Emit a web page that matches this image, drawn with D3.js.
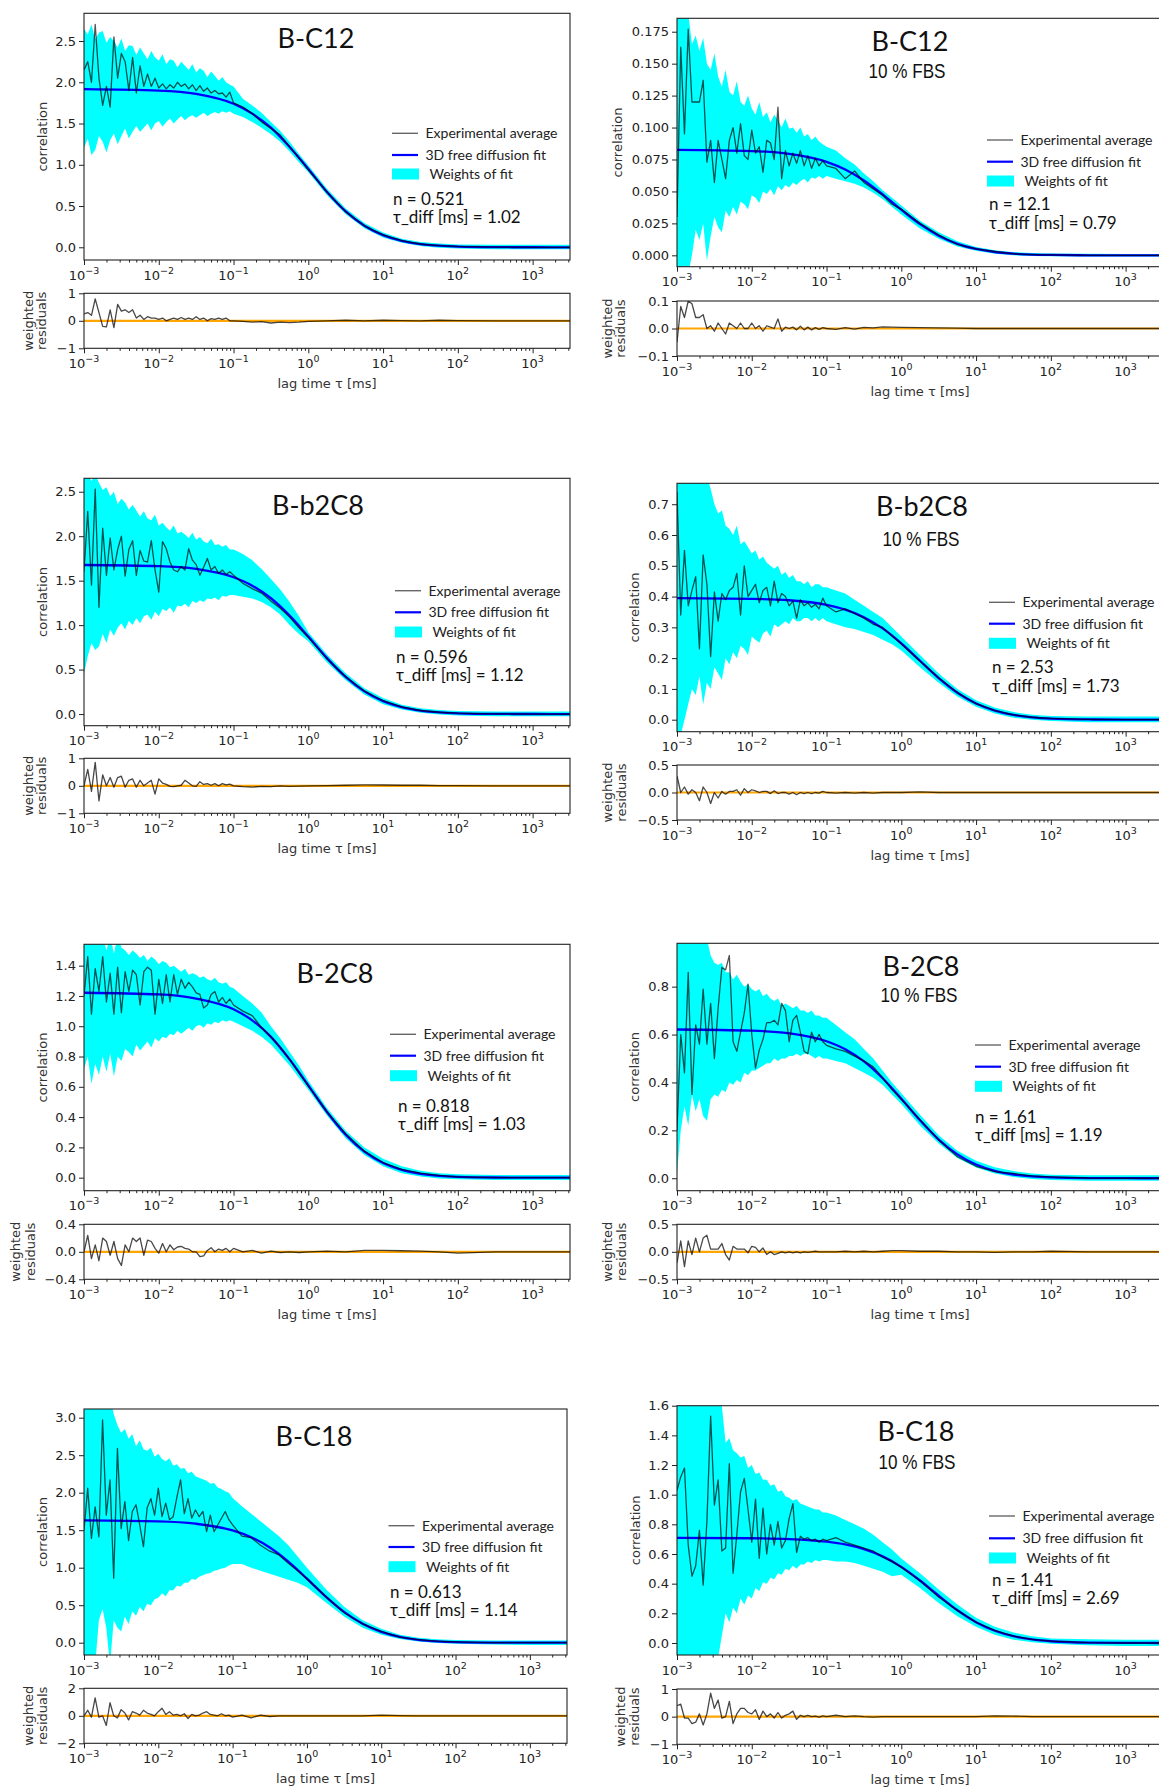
<!DOCTYPE html>
<html><head><meta charset="utf-8">
<script src="https://cdnjs.cloudflare.com/ajax/libs/d3/7.8.5/d3.min.js"></script>
<style>html,body{margin:0;padding:0;background:#fff;}svg{display:block;}</style>
</head><body><script>
// ---------------- DATA ----------------
// lag time grid (log10 of tau in ms) for experimental data, band and residuals
const lagLog = [-3,-2.95,-2.9,-2.85,-2.8,-2.75,-2.7,-2.65,-2.6,-2.55,-2.5,-2.45,-2.4,-2.35,-2.3,-2.25,-2.2,-2.15,-2.1,-2.05,-2,-1.95,-1.9,-1.85,-1.8,-1.75,-1.7,-1.65,-1.6,-1.55,-1.5,-1.45,-1.4,-1.35,-1.3,-1.25,-1.2,-1.15,-1.1,-1.05,-1,-0.875,-0.75,-0.625,-0.5,-0.375,-0.25,-0.125,0,0.25,0.5,0.75,1,1.25,1.5,1.75,2,2.5,3,3.5];
// lag time grid (log10) for the fit curves
const fitLog = [-3,-2,-1.5,-1,-0.75,-0.5,-0.25,0,0.25,0.5,0.75,1,1.25,1.5,1.75,2,2.5,3,3.5];

const panelTitles = ["B-C12","B-C12","B-b2C8","B-b2C8","B-2C8","B-2C8","B-C18","B-C18"];
const panelSubtitles = ["","10 % FBS","","10 % FBS","","10 % FBS","","10 % FBS"];
const nValues = ["0.521","12.1","0.596","2.53","0.818","1.61","0.613","1.41"];
const tauValues = ["1.02","0.79","1.12","1.73","1.03","1.19","1.14","2.69"];
const legendLabels = ["Experimental average","3D free diffusion fit","Weights of fit"];
const xTickSup = ["\u22123","\u22122","\u22121","0","1","2","3"];

// B-C12
const expC12 = [2.15,2.25,2.0,2.7,2.05,1.72,1.95,1.7,2.55,2.05,2.35,2.25,1.9,2.3,1.87,2.2,1.95,2.1,1.95,2.05,1.93,1.98,1.92,1.97,1.93,2.0,1.95,1.98,1.92,1.97,1.9,1.96,1.89,1.93,1.87,1.9,1.86,1.87,1.82,1.88,1.75,1.70,1.62,1.52,1.44,1.36,1.22,1.08,0.94,0.67,0.43,0.26,0.15,0.08,0.04,0.02,0.01,0.003,0,0];
const hiC12 = [2.65,2.58,2.7,2.52,2.6,2.62,2.48,2.55,2.5,2.42,2.53,2.38,2.45,2.44,2.33,2.42,2.35,2.28,2.38,2.3,2.26,2.34,2.22,2.28,2.26,2.18,2.25,2.2,2.15,2.22,2.12,2.17,2.14,2.06,2.13,2.08,2.02,2.06,2.0,1.97,1.95,1.8,1.72,1.63,1.52,1.41,1.28,1.13,0.99,0.71,0.47,0.295,0.18,0.105,0.065,0.045,0.035,0.03,0.03,0.03];
const loC12 = [1.2,1.32,1.12,1.18,1.35,1.28,1.15,1.3,1.38,1.25,1.35,1.44,1.32,1.4,1.47,1.4,1.45,1.5,1.42,1.5,1.53,1.46,1.52,1.56,1.5,1.55,1.59,1.54,1.58,1.6,1.57,1.6,1.63,1.59,1.62,1.64,1.62,1.65,1.63,1.65,1.62,1.58,1.52,1.45,1.37,1.28,1.16,1.03,0.91,0.63,0.40,0.23,0.12,0.055,0.015,-0.005,-0.015,-0.025,-0.025,-0.025];
const resC12 = [0.25,0.3,0.2,0.8,0.3,-0.2,-0.22,0.4,-0.25,0.6,0.35,0.4,0.3,0.4,0.1,0.2,0.05,0.15,0.1,0.1,0.05,0.1,0.0,0.05,0.1,0.05,0.12,0.05,0.1,0.05,0.15,0.05,0.1,0.0,0.08,0.05,0.1,0.05,0.1,0.0,0.0,-0.02,-0.05,-0.03,-0.08,-0.05,-0.07,-0.05,-0.02,0,0.02,0,0.02,0.01,0,0.02,0.01,0,0,0];
const fitC12 = [1.918,1.90,1.86,1.74,1.62,1.45,1.215,0.95,0.67,0.435,0.262,0.148,0.078,0.039,0.019,0.0085,0.0016,0.0003,0];

// B-C12 10 % FBS
const expC12F = [0.03,0.163,0.095,0.177,0.12,0.12,0.12,0.137,0.073,0.09,0.057,0.09,0.075,0.06,0.09,0.1,0.08,0.103,0.078,0.075,0.098,0.08,0.085,0.065,0.09,0.088,0.075,0.116,0.06,0.082,0.07,0.08,0.072,0.082,0.07,0.078,0.068,0.076,0.07,0.074,0.07,0.068,0.06,0.066,0.057,0.052,0.047,0.04,0.036,0.025,0.016,0.0085,0.005,0.003,0.0012,0.0006,0.0003,0,0,0];
const hiC12F = [0.2,0.2,0.2,0.19,0.165,0.172,0.16,0.17,0.15,0.145,0.158,0.14,0.132,0.145,0.128,0.125,0.136,0.12,0.117,0.125,0.115,0.11,0.12,0.108,0.112,0.104,0.11,0.106,0.1,0.107,0.099,0.1,0.096,0.1,0.093,0.095,0.09,0.093,0.089,0.087,0.085,0.082,0.076,0.071,0.064,0.058,0.051,0.045,0.039,0.027,0.018,0.011,0.0065,0.004,0.0025,0.0018,0.0015,0.0012,0.001,0.001];
const loC12F = [-0.02,-0.02,-0.02,-0.015,0.0,0.02,0.012,0.025,-0.004,0.015,0.03,0.022,0.018,0.035,0.03,0.038,0.032,0.042,0.04,0.036,0.047,0.045,0.041,0.05,0.048,0.052,0.047,0.054,0.051,0.055,0.053,0.057,0.055,0.058,0.06,0.057,0.061,0.06,0.062,0.06,0.062,0.06,0.058,0.056,0.053,0.049,0.044,0.038,0.032,0.021,0.013,0.007,0.0035,0.0012,0,-0.0006,-0.0008,-0.001,-0.001,-0.001];
const resC12F = [-0.05,0.08,0.04,0.1,0.09,0.04,0.04,0.05,0.0,0.01,-0.01,0.02,0.0,-0.02,0.02,0.01,0.0,0.02,0.0,0.0,0.02,0.0,0.01,-0.01,0.01,0.005,0.0,0.035,-0.01,0.005,0.0,0.005,-0.005,0.008,-0.005,0.005,-0.005,0.003,-0.003,0.003,0.0,-0.003,0.003,-0.002,0.004,0.002,0.006,0.005,0.004,0.003,0.002,0.001,0,0,0,0,0,0,0,0];
const fitC12F = [0.0825,0.0816,0.0794,0.0732,0.0672,0.0586,0.0477,0.0357,0.0244,0.0154,0.0090,0.0050,0.0026,0.0013,0.0006,0.0003,0.00004,0,0];

// B-b2C8
const expB2C8 = [1.6,2.28,1.45,2.53,1.2,2.09,1.56,1.98,1.62,1.85,2.0,1.55,1.85,1.95,1.56,1.84,1.72,1.71,1.95,1.62,1.37,1.94,1.86,1.71,1.62,1.6,1.66,1.62,1.86,1.73,1.68,1.56,1.65,1.75,1.62,1.66,1.58,1.62,1.57,1.6,1.56,1.47,1.41,1.36,1.27,1.19,1.09,0.97,0.86,0.62,0.42,0.26,0.15,0.08,0.04,0.02,0.01,0.002,0,0];
const hiB2C8 = [2.7,2.7,2.62,2.7,2.6,2.52,2.55,2.45,2.5,2.36,2.42,2.38,2.3,2.35,2.29,2.22,2.28,2.2,2.18,2.24,2.12,2.15,2.1,2.06,2.12,2.03,2.05,2.02,1.98,2.04,1.96,1.99,1.94,1.92,1.97,1.9,1.91,1.88,1.9,1.85,1.85,1.8,1.73,1.63,1.52,1.4,1.26,1.1,0.92,0.67,0.46,0.29,0.18,0.105,0.065,0.045,0.035,0.03,0.03,0.03];
const loB2C8 = [0.45,0.65,0.8,0.72,0.76,0.9,0.8,0.95,0.88,0.97,1.02,0.95,1.05,1.0,1.08,1.02,1.1,1.12,1.06,1.15,1.1,1.18,1.16,1.2,1.14,1.22,1.21,1.24,1.2,1.27,1.25,1.28,1.26,1.3,1.29,1.31,1.28,1.33,1.32,1.34,1.34,1.32,1.3,1.26,1.2,1.12,1.0,0.9,0.82,0.58,0.38,0.22,0.11,0.05,0.015,-0.005,-0.015,-0.025,-0.025,-0.025];
const resB2C8 = [0.0,0.6,-0.2,0.85,-0.55,0.4,0.0,0.3,-0.05,0.3,0.35,-0.05,0.2,0.25,-0.05,0.2,0.0,0.1,0.2,-0.3,0.25,0.1,0.05,-0.02,-0.03,0.0,0.02,0.2,0.1,0.0,-0.02,0.15,0.05,0.08,0.02,0.08,0.0,0.08,0.03,0.06,0.0,-0.03,-0.05,-0.02,-0.03,0,-0.02,-0.01,0,0.01,0.02,0.03,0.03,0.02,0.02,0.01,0.01,0,0,0];
const fitB2C8 = [1.676,1.663,1.632,1.538,1.444,1.302,1.107,0.872,0.629,0.417,0.255,0.145,0.078,0.039,0.019,0.0087,0.0017,0.0003,0];

// B-b2C8 10 % FBS
const expB2C8F = [0.74,0.34,0.55,0.37,0.42,0.465,0.23,0.535,0.44,0.205,0.415,0.32,0.41,0.39,0.42,0.43,0.475,0.34,0.5,0.4,0.42,0.44,0.38,0.42,0.43,0.37,0.45,0.38,0.41,0.4,0.37,0.385,0.33,0.39,0.37,0.38,0.365,0.375,0.36,0.395,0.37,0.35,0.36,0.345,0.33,0.31,0.3,0.272,0.246,0.19,0.136,0.088,0.052,0.03,0.016,0.008,0.004,0.001,0,0];
const hiB2C8F = [0.8,0.8,0.8,0.8,0.8,0.8,0.8,0.8,0.79,0.75,0.7,0.67,0.68,0.63,0.62,0.6,0.63,0.57,0.58,0.56,0.54,0.55,0.52,0.53,0.51,0.5,0.49,0.5,0.47,0.48,0.46,0.47,0.45,0.45,0.44,0.45,0.43,0.44,0.44,0.43,0.43,0.42,0.41,0.39,0.37,0.35,0.33,0.3,0.27,0.21,0.15,0.1,0.063,0.04,0.025,0.016,0.012,0.01,0.01,0.01];
const loB2C8F = [-0.05,-0.05,0.0,0.05,0.1,0.08,0.14,0.05,0.12,0.1,0.17,0.15,0.13,0.2,0.18,0.22,0.2,0.24,0.23,0.21,0.27,0.26,0.25,0.28,0.29,0.27,0.31,0.3,0.31,0.32,0.31,0.33,0.32,0.32,0.33,0.33,0.32,0.33,0.32,0.33,0.32,0.31,0.3,0.295,0.285,0.275,0.26,0.245,0.225,0.17,0.12,0.075,0.042,0.02,0.006,0,-0.004,-0.008,-0.008,-0.008];
const resB2C8F = [0.3,0.0,0.1,-0.03,0.05,0.0,-0.15,0.1,0.0,-0.2,0.0,-0.1,0.02,-0.03,0.02,0.02,0.05,-0.05,0.07,0.0,0.05,0.03,0.0,0.02,0.02,-0.02,0.03,-0.02,0.0,0.0,-0.03,0.0,-0.04,0.0,-0.02,0.0,-0.02,0.0,-0.01,0.02,0.0,-0.01,0,-0.01,0,-0.01,0,0,0,0.01,0,0,0,0,0,0,0,0,0,0];
const fitB2C8F = [0.3948,0.3927,0.388,0.373,0.3576,0.333,0.2965,0.248,0.1914,0.1352,0.0877,0.0527,0.0296,0.0157,0.0078,0.0037,0.00075,0.0001,0];

// B-2C8
const exp2C8 = [1.2,1.46,1.08,1.38,1.23,1.46,1.16,1.35,1.08,1.39,1.09,1.36,1.23,1.37,1.34,1.14,1.36,1.39,1.37,1.08,1.31,1.15,1.34,1.16,1.34,1.21,1.31,1.25,1.29,1.26,1.22,1.21,1.12,1.14,1.21,1.23,1.16,1.19,1.15,1.18,1.14,1.1,1.07,0.99,0.93,0.86,0.78,0.69,0.605,0.435,0.29,0.175,0.1,0.055,0.03,0.015,0.005,0,0,0];
const hi2C8 = [1.6,1.6,1.6,1.6,1.6,1.6,1.5,1.6,1.48,1.6,1.52,1.5,1.47,1.5,1.48,1.45,1.47,1.43,1.46,1.44,1.41,1.43,1.42,1.39,1.4,1.38,1.36,1.38,1.34,1.35,1.34,1.32,1.33,1.31,1.3,1.32,1.29,1.28,1.29,1.26,1.25,1.2,1.15,1.09,1.0,0.92,0.83,0.74,0.64,0.46,0.31,0.2,0.125,0.075,0.045,0.03,0.022,0.018,0.018,0.018];
const lo2C8 = [0.72,0.8,0.62,0.75,0.68,0.8,0.7,0.82,0.67,0.8,0.77,0.85,0.83,0.8,0.88,0.84,0.87,0.9,0.86,0.92,0.9,0.93,0.92,0.95,0.94,0.97,0.95,0.97,0.99,0.97,1.0,1.01,0.99,1.02,1.01,1.03,1.02,1.04,1.03,1.04,1.03,1.0,0.97,0.93,0.88,0.81,0.74,0.66,0.58,0.41,0.26,0.15,0.075,0.03,0.008,-0.005,-0.01,-0.016,-0.016,-0.016];
const res2C8 = [0.0,0.24,-0.1,0.1,-0.13,0.2,0.15,-0.05,0.15,-0.1,-0.2,0.1,0.0,0.2,0.15,0.2,-0.05,0.17,0.15,0.05,-0.02,0.12,0.0,0.1,0.03,0.07,0.08,0.05,0.04,0.0,0.0,-0.07,-0.06,0.02,0.06,0.0,0.04,0.02,0.05,0.0,0.05,0,0.02,-0.02,0.01,-0.01,0,-0.01,0,0.01,0,0.02,0.02,0.015,0.01,0,-0.02,0,0,0];
const fit2C8 = [1.221,1.21,1.183,1.112,1.039,0.930,0.781,0.610,0.434,0.284,0.1716,0.0964,0.051,0.0257,0.0122,0.0056,0.0011,0.0002,0];

// B-2C8 10 % FBS
const exp2C8F = [0.2,0.6,0.44,0.86,0.35,0.64,0.56,0.79,0.56,0.73,0.5,0.71,0.88,0.87,0.93,0.57,0.53,0.61,0.69,0.81,0.6,0.46,0.535,0.58,0.65,0.65,0.66,0.64,0.73,0.7,0.57,0.66,0.68,0.61,0.53,0.52,0.61,0.57,0.6,0.57,0.555,0.54,0.53,0.51,0.49,0.465,0.42,0.37,0.33,0.245,0.16,0.09,0.05,0.028,0.02,0.01,0.006,0.001,0,0];
const hi2C8F = [1.0,1.0,1.0,1.0,1.0,1.0,1.0,1.0,1.0,0.93,0.9,0.89,0.9,0.86,0.86,0.83,0.85,0.82,0.8,0.81,0.79,0.78,0.79,0.76,0.77,0.75,0.74,0.75,0.72,0.73,0.72,0.71,0.72,0.7,0.7,0.69,0.7,0.68,0.68,0.67,0.67,0.64,0.61,0.58,0.54,0.5,0.45,0.4,0.355,0.265,0.18,0.115,0.073,0.046,0.03,0.02,0.015,0.012,0.012,0.012];
const lo2C8F = [0.02,0.2,0.3,0.22,0.35,0.28,0.33,0.26,0.24,0.33,0.35,0.34,0.37,0.36,0.4,0.39,0.41,0.4,0.44,0.43,0.45,0.45,0.46,0.47,0.48,0.48,0.5,0.49,0.5,0.5,0.51,0.51,0.52,0.51,0.52,0.52,0.51,0.5,0.51,0.5,0.5,0.49,0.48,0.46,0.44,0.42,0.39,0.35,0.31,0.22,0.145,0.085,0.045,0.02,0.005,-0.003,-0.007,-0.01,-0.01,-0.01];
const res2C8F = [-0.2,0.2,-0.27,0.2,-0.05,0.25,0.0,0.25,0.3,0.05,0.05,0.05,0.15,-0.05,-0.15,0.1,0.05,0.05,0.05,-0.02,0.1,0.08,0.0,0.07,-0.05,0.0,-0.05,-0.03,0.0,-0.02,0.0,-0.02,0.0,-0.02,0.0,-0.01,0.0,0.01,0.0,0.0,0.0,0,0.01,0,0.01,0,0.01,0.02,0.02,0.01,0.01,0,0,-0.01,0,0,0.01,0,0,0];
const fit2C8F = [0.621,0.616,0.605,0.572,0.5386,0.488,0.4177,0.332,0.2419,0.1615,0.0995,0.0572,0.0309,0.0156,0.0076,0.0035,0.0007,0.0001,0];

// B-C18
const expC18 = [1.5,2.06,1.39,1.81,1.41,2.97,1.7,2.17,0.86,2.59,1.52,1.88,1.36,1.75,1.84,1.57,1.28,1.8,1.92,1.7,2.06,1.68,1.86,1.64,1.68,1.94,2.17,1.72,1.92,1.66,1.77,1.68,1.75,1.48,1.7,1.48,1.57,1.66,1.75,1.64,1.57,1.42,1.4,1.3,1.22,1.17,1.06,0.96,0.85,0.62,0.4,0.25,0.15,0.075,0.04,0.02,0.01,0,0,0];
const hiC18 = [3.3,3.3,3.3,3.3,3.3,3.3,3.3,3.3,3.05,2.9,2.8,2.85,2.72,2.78,2.62,2.7,2.58,2.56,2.6,2.48,2.52,2.45,2.42,2.46,2.36,2.38,2.32,2.33,2.26,2.28,2.22,2.2,2.18,2.16,2.12,2.13,2.07,2.05,2.02,2.0,1.93,1.82,1.72,1.62,1.52,1.42,1.3,1.15,1.0,0.72,0.48,0.3,0.185,0.105,0.065,0.045,0.035,0.03,0.03,0.03];
const loC18 = [-0.3,-0.3,-0.3,-0.3,0.3,0.45,0.2,-0.3,0.3,0.2,0.15,0.35,0.25,0.42,0.36,0.48,0.42,0.52,0.5,0.58,0.6,0.66,0.62,0.7,0.7,0.76,0.75,0.8,0.8,0.85,0.84,0.88,0.9,0.92,0.93,0.96,0.97,0.99,1.0,1.03,1.05,1.05,1.0,0.96,0.92,0.88,0.84,0.8,0.74,0.54,0.35,0.2,0.105,0.05,0.015,-0.005,-0.015,-0.025,-0.03,-0.03];
const resC18 = [0.0,0.4,-0.1,1.3,-0.1,0.0,-0.7,0.95,0.0,-0.15,0.45,0.2,-0.3,0.3,0.2,0.05,0.4,0.2,0.1,0.0,0.3,0.55,0.1,0.3,0.05,0.1,0.0,0.15,-0.2,0.1,0.0,0.05,0.2,0.3,0.1,0.05,0.0,0.15,0.0,0.05,-0.1,0.05,-0.15,0.05,-0.05,0,0,0,0,0,0,0,0.05,0.02,0,0,0,0,0,0];
const fitC18 = [1.630,1.617,1.587,1.497,1.406,1.270,1.082,0.854,0.618,0.4106,0.2513,0.1435,0.077,0.039,0.0188,0.0087,0.0017,0.0003,0];

// B-C18 10 % FBS
const expC18F = [1.03,1.12,1.18,0.66,0.45,0.52,0.76,0.39,0.82,1.53,0.93,1.1,0.62,0.64,1.21,0.47,0.73,1.02,1.11,0.9,0.68,0.97,0.57,0.91,0.6,0.8,0.66,0.82,0.64,0.69,0.84,0.94,0.61,0.72,0.7,0.71,0.69,0.7,0.68,0.7,0.69,0.71,0.68,0.66,0.64,0.62,0.58,0.55,0.51,0.42,0.31,0.22,0.14,0.085,0.046,0.024,0.012,0.002,0,0];
const hiC18F = [1.7,1.7,1.7,1.7,1.7,1.7,1.7,1.7,1.7,1.7,1.7,1.7,1.6,1.35,1.38,1.3,1.28,1.25,1.26,1.18,1.2,1.14,1.15,1.1,1.1,1.06,1.07,1.02,1.03,0.99,0.98,0.96,0.97,0.94,0.93,0.92,0.91,0.9,0.9,0.88,0.88,0.86,0.83,0.8,0.77,0.73,0.68,0.63,0.57,0.47,0.36,0.26,0.17,0.11,0.07,0.045,0.03,0.025,0.022,0.022];
const loC18F = [-0.1,-0.1,-0.1,-0.1,-0.1,-0.1,-0.1,-0.1,-0.1,-0.1,-0.1,-0.1,0.05,0.2,0.14,0.24,0.2,0.3,0.26,0.32,0.3,0.37,0.35,0.41,0.4,0.44,0.43,0.47,0.46,0.5,0.49,0.52,0.5,0.53,0.53,0.55,0.54,0.56,0.55,0.56,0.56,0.55,0.55,0.54,0.52,0.5,0.48,0.45,0.46,0.37,0.27,0.18,0.11,0.055,0.022,0.005,-0.005,-0.015,-0.02,-0.02];
const resC18F = [0.4,0.45,-0.05,-0.05,-0.25,-0.2,0.1,-0.3,0.1,0.85,0.3,0.6,-0.05,0.0,0.55,-0.25,0.1,0.3,0.3,0.15,0.1,0.25,-0.1,0.2,0.0,0.1,-0.05,0.15,-0.05,0.05,0.1,0.2,-0.1,0.05,0.0,0.05,0.0,0.02,-0.02,0.03,0.0,0.05,0,0.03,0,-0.02,0,0,0,0,0,0,0,0.03,0.02,0,0,0,0,0];
const fitC18F = [0.709,0.7064,0.7008,0.683,0.6642,0.633,0.584,0.513,0.4213,0.3186,0.2204,0.1404,0.0827,0.0459,0.0239,0.0118,0.0025,0.0005,0];

// y tick values
const yTicksA = [0,0.5,1,1.5,2,2.5];
const yTicksB = [0,0.025,0.05,0.075,0.1,0.125,0.15,0.175];
const yTicksC = [0,0.1,0.2,0.3,0.4,0.5,0.6,0.7];
const yTicksD = [0,0.2,0.4,0.6,0.8,1.0,1.2,1.4];
const yTicksE = [0,0.2,0.4,0.6,0.8];
const yTicksF = [0,0.5,1,1.5,2,2.5,3];
const yTicksG = [0,0.2,0.4,0.6,0.8,1.0,1.2,1.4,1.6];

// ---------------- TABLE (built from the arrays above) ----------------
const series = [
  {exp:expC12, hi:hiC12, lo:loC12, res:resC12, fit:fitC12, yt:yTicksA, yf:".1f", rt:[-1,0,1], rf:"d"},
  {exp:expC12F, hi:hiC12F, lo:loC12F, res:resC12F, fit:fitC12F, yt:yTicksB, yf:".3f", rt:[-0.1,0,0.1], rf:".1f"},
  {exp:expB2C8, hi:hiB2C8, lo:loB2C8, res:resB2C8, fit:fitB2C8, yt:yTicksA, yf:".1f", rt:[-1,0,1], rf:"d"},
  {exp:expB2C8F, hi:hiB2C8F, lo:loB2C8F, res:resB2C8F, fit:fitB2C8F, yt:yTicksC, yf:".1f", rt:[-0.5,0,0.5], rf:".1f"},
  {exp:exp2C8, hi:hi2C8, lo:lo2C8, res:res2C8, fit:fit2C8, yt:yTicksD, yf:".1f", rt:[-0.4,0,0.4], rf:".1f"},
  {exp:exp2C8F, hi:hi2C8F, lo:lo2C8F, res:res2C8F, fit:fit2C8F, yt:yTicksE, yf:".1f", rt:[-0.5,0,0.5], rf:".1f"},
  {exp:expC18, hi:hiC18, lo:loC18, res:resC18, fit:fitC18, yt:yTicksF, yf:".1f", rt:[-2,0,2], rf:"d"},
  {exp:expC18F, hi:hiC18F, lo:loC18F, res:resC18F, fit:fitC18F, yt:yTicksG, yf:".1f", rt:[-1,0,1], rf:"d"}
];

// ---------------- LAYOUT ----------------
const layouts = [
 {x0:84,x1:570,mt:13.3,mb:260,rt:293.3,rb:348.3,yDom:[-0.154,2.836],rDom:[-1,1],ylx:42,rl1:28,rl2:41,tx:316,ty:38.3,lx:392,ly:[133.3,155,174],nx:393,ny:198.7,tauy:216.7},
 {x0:677,x1:1163,mt:18.3,mb:266.7,rt:301,rb:356,yDom:[-0.0089,0.1855],rDom:[-0.1,0.1],ylx:617,rl1:607,rl2:620,tx:910,ty:41.7,sx:907,sy:70.7,lx:987,ly:[140,161.7,181],nx:989,ny:204,tauy:222.7},
 {x0:84,x1:570,mt:478.3,mb:725.7,rt:758.3,rb:813.3,yDom:[-0.131,2.651],rDom:[-1,1],ylx:42,rl1:28,rl2:41.6,tx:318,ty:505,lx:395,ly:[590.7,612.3,632],nx:396,ny:657.3,tauy:675},
 {x0:677,x1:1163,mt:483.3,mb:731.7,rt:765,rb:820,yDom:[-0.039,0.768],rDom:[-0.5,0.5],ylx:634,rl1:607,rl2:621,tx:922,ty:506.7,sx:921,sy:538.3,lx:989,ly:[602.3,623.7,643.3],nx:992,ny:667.3,tauy:686},
 {x0:84,x1:570,mt:944.3,mb:1190.7,rt:1224.3,rb:1279.3,yDom:[-0.086,1.541],rDom:[-0.4,0.4],ylx:42,rl1:15,rl2:30,tx:335,ty:973.3,lx:390,ly:[1034.3,1055.7,1075.7],nx:398,ny:1105.7,tauy:1124},
 {x0:677,x1:1163,mt:943.3,mb:1190.7,rt:1224.3,rb:1279.3,yDom:[-0.052,0.981],rDom:[-0.5,0.5],ylx:634,rl1:607,rl2:621,tx:921,ty:966.7,sx:919,sy:994.3,lx:975,ly:[1045,1066.7,1086.3],nx:975,ny:1117.3,tauy:1135},
 {x0:84,x1:567,mt:1409,mb:1655,rt:1688.3,rb:1743.3,yDom:[-0.164,3.116],rDom:[-2,2],ylx:42,rl1:28,rl2:42,tx:314,ty:1436.7,lx:388.5,ly:[1525.7,1547,1566.7],nx:390,ny:1591.7,tauy:1610.3},
 {x0:677,x1:1163,mt:1405.7,mb:1655,rt:1689,rb:1744.3,yDom:[-0.081,1.6],rDom:[-1,1],ylx:635,rl1:620,rl2:634,tx:916,ty:1431.7,sx:917,sy:1461,lx:989,ly:[1516,1538.3,1558],nx:992,ny:1580,tauy:1598.3}
];

// ---------------- DRAW ----------------
const W = 1159, H = 1787;
const TICKFONT = "'DejaVu Sans', Verdana, sans-serif";
const LEGFONT = "Lato, 'Open Sans', sans-serif";
const svg = d3.select("body").append("svg").attr("width", W).attr("height", H)
  .attr("viewBox", `0 0 ${W} ${H}`);
const defs = svg.append("defs");
const xMax = Math.pow(10, 3.5);
const lagT = lagLog.map(e => Math.pow(10, e));
const fitT = fitLog.map(e => Math.pow(10, e));
const majors = [1e-3,1e-2,1e-1,1,10,100,1000];
const minors = [];
for (let k = -3; k <= 3; k++) for (let m = 2; m <= 9; m++) { const v = m * Math.pow(10, k); if (v <= xMax) minors.push(v); }

function styleAxis(g) {
  g.select(".domain").remove();
  g.selectAll(".tick line").attr("stroke", "#222").attr("stroke-width", 1);
  g.selectAll(".tick text").attr("fill", "#222").attr("font-family", TICKFONT).attr("font-size", 13);
}

function xAxis(g, x, yPos) {
  const a = g.append("g").attr("transform", `translate(0,${yPos})`)
    .call(d3.axisBottom(x).tickValues(minors).tickFormat("").tickSize(2.5));
  styleAxis(a);
  const b = g.append("g").attr("transform", `translate(0,${yPos})`)
    .call(d3.axisBottom(x).tickValues(majors).tickFormat("").tickSize(5));
  styleAxis(b);
  majors.forEach((v, i) => {
    const t = g.append("text").attr("x", x(v)).attr("y", yPos + 19.5)
      .attr("text-anchor", "middle").attr("font-family", TICKFONT).attr("font-size", 13).attr("fill", "#222");
    t.append("tspan").text("10");
    t.append("tspan").attr("dy", -6).attr("font-size", 9.5).text(xTickSup[i]);
  });
}

series.forEach((s, idx) => {
  const L = layouts[idx];
  const g = svg.append("g");
  const x = d3.scaleLog().domain([1e-3, xMax]).range([L.x0, L.x1]);
  const y = d3.scaleLinear().domain(L.yDom).range([L.mb, L.mt]);
  const yr = d3.scaleLinear().domain(L.rDom).range([L.rb, L.rt]);
  const cm = "clipm" + idx, cr = "clipr" + idx;
  defs.append("clipPath").attr("id", cm).append("rect")
    .attr("x", L.x0).attr("y", L.mt).attr("width", L.x1 - L.x0).attr("height", L.mb - L.mt);
  defs.append("clipPath").attr("id", cr).append("rect")
    .attr("x", L.x0).attr("y", L.rt).attr("width", L.x1 - L.x0).attr("height", L.rb - L.rt);

  const idxs = d3.range(lagT.length);
  // band
  const area = d3.area()
    .defined(i => s.hi[i] != null && s.lo[i] != null)
    .x(i => x(lagT[i])).y0(i => y(s.lo[i])).y1(i => y(s.hi[i]));
  g.append("path").datum(idxs).attr("d", area).attr("fill", "#00ffff").attr("clip-path", `url(#${cm})`);
  // fit
  const fitLine = d3.line().defined(i => s.fit[i] != null)
    .x(i => x(fitT[i])).y(i => y(s.fit[i])).curve(d3.curveMonotoneX);
  g.append("path").datum(d3.range(fitT.length)).attr("d", fitLine).attr("fill", "none")
    .attr("stroke", "#0000ff").attr("stroke-width", 2.3).attr("clip-path", `url(#${cm})`);
  // experimental average
  const expLine = d3.line().defined(i => s.exp[i] != null)
    .x(i => x(lagT[i])).y(i => y(s.exp[i]));
  g.append("path").datum(idxs).attr("d", expLine).attr("fill", "none")
    .attr("stroke", "#000").attr("stroke-opacity", 0.68).attr("stroke-width", 1.3)
    .attr("stroke-linejoin", "round").attr("clip-path", `url(#${cm})`);

  // residuals
  g.append("line").attr("x1", L.x0).attr("x2", L.x1).attr("y1", yr(0)).attr("y2", yr(0))
    .attr("stroke", "#ffa500").attr("stroke-width", 2.2);
  const resLine = d3.line().defined(i => s.res[i] != null)
    .x(i => x(lagT[i])).y(i => yr(s.res[i]));
  g.append("path").datum(idxs).attr("d", resLine).attr("fill", "none")
    .attr("stroke", "#000").attr("stroke-opacity", 0.72).attr("stroke-width", 1.3)
    .attr("stroke-linejoin", "round").attr("clip-path", `url(#${cr})`);

  // frames
  [[L.mt, L.mb], [L.rt, L.rb]].forEach(([t, b]) => {
    g.append("rect").attr("x", L.x0).attr("y", t).attr("width", L.x1 - L.x0).attr("height", b - t)
      .attr("fill", "none").attr("stroke", "#222").attr("stroke-width", 1.1);
  });

  // y axes
  const ya = g.append("g").attr("transform", `translate(${L.x0},0)`)
    .call(d3.axisLeft(y).tickValues(s.yt).tickFormat(d3.format(s.yf)).tickSize(5).tickPadding(3));
  styleAxis(ya);
  const ra = g.append("g").attr("transform", `translate(${L.x0},0)`)
    .call(d3.axisLeft(yr).tickValues(s.rt).tickFormat(d3.format(s.rf)).tickSize(5).tickPadding(3));
  styleAxis(ra);
  // x axes
  xAxis(g, x, L.mb);
  xAxis(g, x, L.rb);

  // axis labels
  const cy = (L.mt + L.mb) / 2;
  g.append("text").attr("transform", `translate(${L.ylx},${cy}) rotate(-90)`)
    .attr("text-anchor", "middle").attr("dy", "0.35em").attr("font-family", TICKFONT).attr("font-size", 13)
    .attr("fill", "#333").text("correlation");
  const ry = (L.rt + L.rb) / 2;
  g.append("text").attr("transform", `translate(${L.rl1},${ry}) rotate(-90)`)
    .attr("text-anchor", "middle").attr("dy", "0.35em").attr("font-family", TICKFONT).attr("font-size", 13)
    .attr("fill", "#333").text("weighted");
  g.append("text").attr("transform", `translate(${L.rl2},${ry}) rotate(-90)`)
    .attr("text-anchor", "middle").attr("dy", "0.35em").attr("font-family", TICKFONT).attr("font-size", 13)
    .attr("fill", "#333").text("residuals");
  g.append("text").attr("x", (L.x0 + Math.min(L.x1, L.x0 + 486)) / 2).attr("y", L.rb + 39.5)
    .attr("text-anchor", "middle").attr("font-family", TICKFONT).attr("font-size", 13)
    .attr("fill", "#333").text("lag time \u03C4 [ms]");

  // titles
  g.append("text").attr("x", L.tx).attr("y", L.ty + 9.5).attr("text-anchor", "middle")
    .attr("font-family", LEGFONT).attr("font-size", 27).attr("fill", "#111").text(panelTitles[idx]);
  if (panelSubtitles[idx]) {
    g.append("text").attr("x", L.sx).attr("y", L.sy + 7.5).attr("text-anchor", "middle")
      .attr("font-family", "'Liberation Sans Narrow', 'Liberation Sans', Arial, sans-serif")
      .attr("font-size", 21).attr("fill", "#111")
      .attr("textLength", 77).attr("lengthAdjust", "spacingAndGlyphs").text(panelSubtitles[idx]);
  }

  // legend
  const lg = g.append("g");
  lg.append("line").attr("x1", L.lx).attr("x2", L.lx + 26).attr("y1", L.ly[0]).attr("y2", L.ly[0])
    .attr("stroke", "#000").attr("stroke-opacity", 0.6).attr("stroke-width", 1.4);
  lg.append("line").attr("x1", L.lx).attr("x2", L.lx + 26).attr("y1", L.ly[1]).attr("y2", L.ly[1])
    .attr("stroke", "#0000ff").attr("stroke-width", 2.2);
  lg.append("rect").attr("x", L.lx).attr("y", L.ly[2] - 5.5).attr("width", 27).attr("height", 11)
    .attr("fill", "#00ffff");
  legendLabels.forEach((lab, k) => {
    lg.append("text").attr("x", L.lx + 33.5 + (k === 2 ? 4 : 0)).attr("y", L.ly[k] + 4.8)
      .attr("font-family", LEGFONT).attr("font-size", 14).attr("fill", "#222").text(lab);
  });
  g.append("text").attr("x", L.nx).attr("y", L.ny + 6).attr("font-family", LEGFONT)
    .attr("font-size", 17).attr("fill", "#111").text("n = " + nValues[idx]);
  g.append("text").attr("x", L.nx).attr("y", L.tauy + 6).attr("font-family", LEGFONT)
    .attr("font-size", 17).attr("fill", "#111").text("\u03C4_diff [ms] = " + tauValues[idx]);
});
</script></body></html>
